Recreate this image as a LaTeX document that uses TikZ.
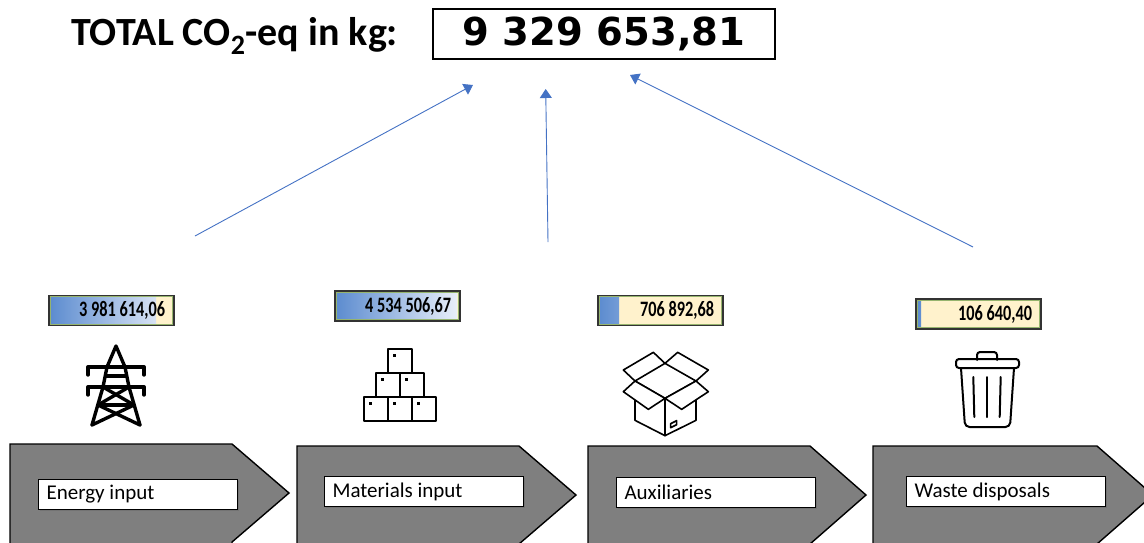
\documentclass[tikz,border=0pt]{standalone}
\usepackage{fontspec}
\setmainfont{Carlito}
\newfontfamily\numfont{DejaVu Sans}
\usetikzlibrary{arrows.meta}
\definecolor{arrowblue}{RGB}{68,114,196}
\definecolor{chevgray}{RGB}{127,127,127}
\definecolor{beige}{RGB}{255,242,204}
\definecolor{barblue}{RGB}{91,139,207}
\definecolor{barlight}{RGB}{236,241,250}
\definecolor{boxgreen}{RGB}{150,180,110}
\begin{document}
\begin{tikzpicture}[x=1pt,y=-1pt,
  conn/.style={draw=arrowblue,line width=0.9pt,-{Triangle[width=12pt,length=9pt]}},
  valbox/.style={draw=black!80,line width=1.6pt,fill=beige,minimum width=125pt,minimum height=30pt,
    inner xsep=9pt,inner ysep=0pt,text width=107pt,align=flush right,
    font=\fontsize{22}{24}\selectfont\bfseries,
    path picture={\shade[left color=barblue,right color=barlight]
      (path picture bounding box.south west) rectangle ([xshift=#1]path picture bounding box.north west);
      \draw[boxgreen,line width=1pt] ([xshift=1.4pt,yshift=1.4pt]path picture bounding box.south west)
        rectangle ([xshift=-1.4pt,yshift=-1.4pt]path picture bounding box.north east);}},
  lbl/.style={draw=black,line width=1.1pt,fill=white,minimum height=30pt,inner xsep=8pt,inner ysep=0pt,
    text width=183pt,align=flush left,anchor=north west,font=\fontsize{21}{24}\selectfont,
    preaction={fill=black!55,transform canvas={xshift=1.6pt,yshift=-1pt}}},
  chev/.style={fill=chevgray,draw=black,line width=1.4pt,line join=miter},
  icon/.style={draw=black,line width=3.4pt,line cap=round,line join=round},
  thin/.style={draw=black,line width=1.6pt,fill=white,line join=round}
]
\useasboundingbox (0,0) rectangle (1144,542);
\clip (0,0) rectangle (1144,542);

% title and total
\node[anchor=base west,inner sep=0pt,font=\fontsize{40}{46}\selectfont\bfseries] (title) at (71,45) {TOTAL CO\textsubscript{2}-eq in kg:};
\node[draw=black,line width=1.4pt,minimum width=342pt,minimum height=50pt,inner sep=0pt,
  font=\numfont\bfseries\fontsize{38.5}{44}\selectfont] (total) at (604,34) {9 329 653,81};

% connectors
\coordinate (a1s) at (195,236); \coordinate (a1e) at (473,85);
\coordinate (a2s) at (548,242); \coordinate (a2e) at (545.7,89);
\coordinate (a3s) at (973,247); \coordinate (a3e) at (630,75);
\draw[conn] (a1s) -- (a1e);
\draw[conn] (a2s) -- (a2e);
\draw[conn] (a3s) -- (a3e);

% value boxes
\node[valbox=107pt] (v1) at (111.5,310.5) {\scalebox{0.74}[1]{3 981 614,06}};
\node[valbox=122pt] (v2) at (397.5,306) {\scalebox{0.74}[1]{4 534 506,67}};
\node[valbox=21pt] (v3) at (660.5,310.5) {\scalebox{0.74}[1]{706 892,68}};
\node[valbox=5pt] (v4) at (978.5,314) {\scalebox{0.74}[1]{106 640,40}};

% pylon icon
\begin{scope}[icon]
\draw (92,425) -- (103,387) -- (107,367) -- (116,346) -- (125,367) -- (129,387) -- (140,425);
\draw (88,375) -- (88,367) -- (144,367) -- (144,375);
\draw (88,395) -- (88,387) -- (144,387) -- (144,395);
\draw (106,376) -- (126,376);
\draw (103,387) -- (134,405) -- (92,425);
\draw (129,387) -- (98,405) -- (140,425);
\draw (98,405) -- (134,405);
\end{scope}

% stacked boxes icon
\begin{scope}[thin]
\foreach \bx/\by in {388/349, 376/373, 400/373, 364/397, 388/397, 412/397}{
  \draw (\bx,\by) rectangle ++(24,24);
  \fill[black] (\bx+5,\by+5) rectangle ++(3,3);
}
\end{scope}

% open box icon
\begin{scope}[shift={(610,345)},scale=1/3]
\draw[thin] (75,108) -- (165,55) -- (130,22) -- (40,75) -- cycle;
\draw[thin] (165,55) -- (258,108) -- (295,75) -- (203,22) -- cycle;
\draw[thin] (75,108) -- (165,160) -- (165,272) -- (75,226) -- cycle;
\draw[thin] (165,160) -- (258,108) -- (258,226) -- (165,272) -- cycle;
\draw[thin] (75,108) -- (165,160) -- (115,193) -- (40,140) -- cycle;
\draw[thin] (165,160) -- (258,108) -- (295,140) -- (215,193) -- cycle;
\draw[thin] (182,236) -- (200,227) -- (200,239) -- (182,248) -- cycle;
\end{scope}

% trash can icon
\begin{scope}[draw=black,line width=2pt,line join=round,line cap=round]
\draw[rounded corners=3pt] (977,360) -- (977,352) -- (997,352) -- (997,360);
\draw[rounded corners=3pt] (956,359) rectangle (1019,368);
\draw[rounded corners=4.5pt] (961,368) -- (965,427) -- (1010,427) -- (1014,368);
\draw (973.3,377) -- (974.3,417);
\draw (986.7,377) -- (986.7,417);
\draw (1000.7,377) -- (999.7,417);
\end{scope}

% chevrons
\draw[chev] (10,444) -- (232,444) -- (289,493) -- (232,542) -- (232,550) -- (10,550) -- cycle;
\draw[chev] (297,446) -- (519,446) -- (576,495) -- (519,544) -- (519,550) -- (297,550) -- cycle;
\draw[chev] (588,446) -- (810,446) -- (866,495) -- (810,544) -- (810,550) -- (588,550) -- cycle;
\draw[chev] (873,446) -- (1097,446) -- (1153,495) -- (1097,544) -- (1097,550) -- (873,550) -- cycle;

% labels
\node[lbl] (l1) at (38,479) {Energy input};
\node[lbl] (l2) at (324,476) {Materials input};
\node[lbl] (l3) at (616,477) {Auxiliaries};
\node[lbl] (l4) at (906,476) {Waste disposals};
\end{tikzpicture}
\end{document}
